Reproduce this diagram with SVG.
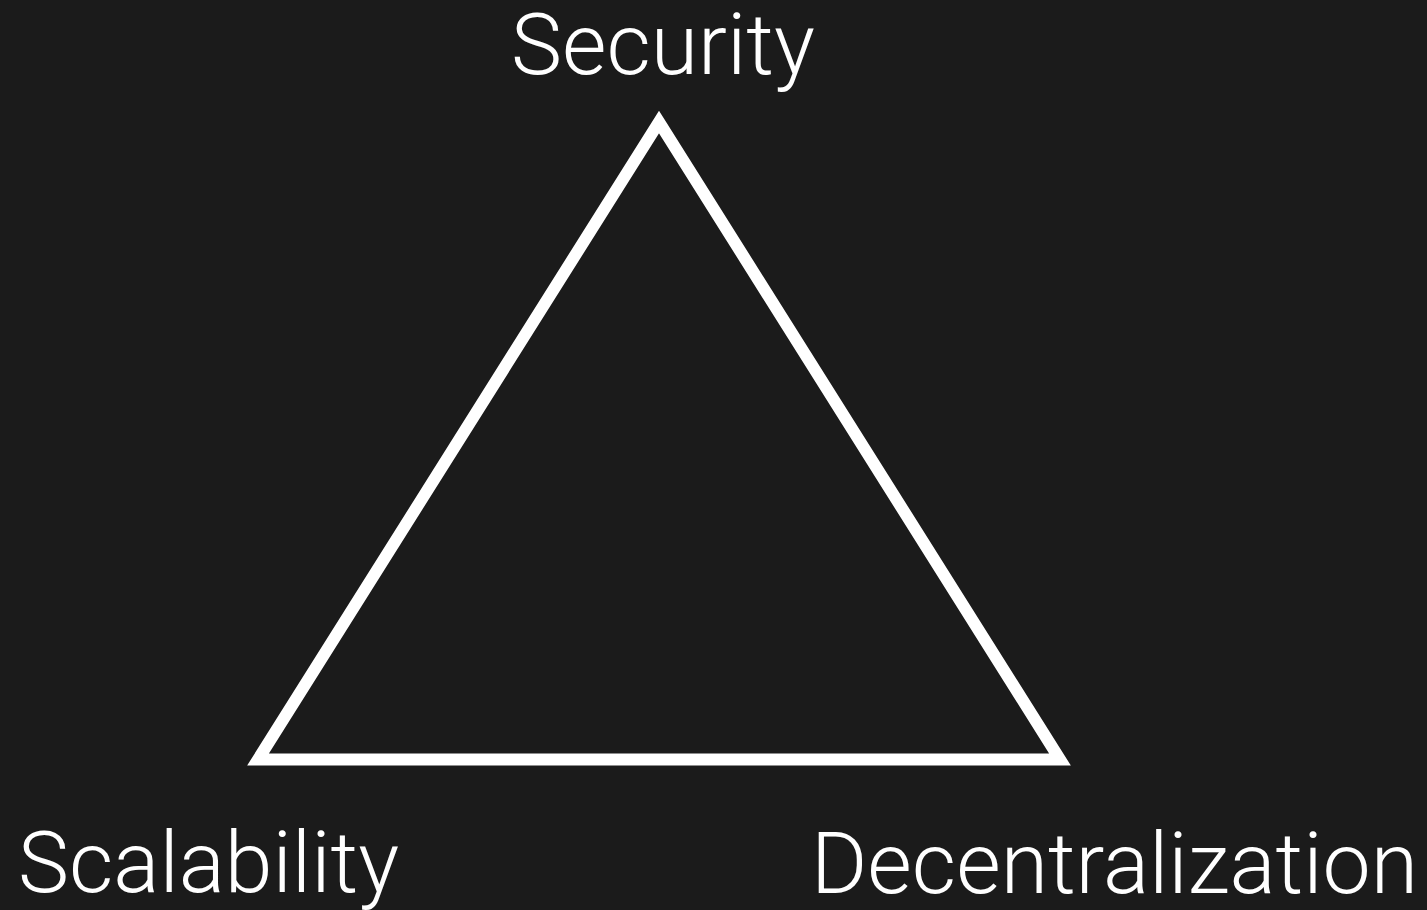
<svg xmlns="http://www.w3.org/2000/svg" width="1427" height="910" viewBox="0 0 1427 910">
<style>
.lbl{font-family:Roboto,"Liberation Sans",sans-serif;font-weight:300;font-size:86px;fill:#ffffff}
.tri{fill:none;stroke:#ffffff;stroke-width:12;stroke-linejoin:miter;stroke-miterlimit:10}
</style>
<rect x="0" y="0" width="1427" height="910" fill="#1b1b1b"/>
<g id="connectors">
<polygon id="triangle" class="tri" points="659,122 1060,759.5 258,759.5"/>
</g>
<g id="security"><text class="lbl" x="663" y="74" text-anchor="middle">Security</text></g>
<g id="scalability"><text class="lbl" x="18" y="892">Scalability</text></g>
<g id="decentralization"><text class="lbl" x="811" y="893">Decentralization</text></g>
</svg>
